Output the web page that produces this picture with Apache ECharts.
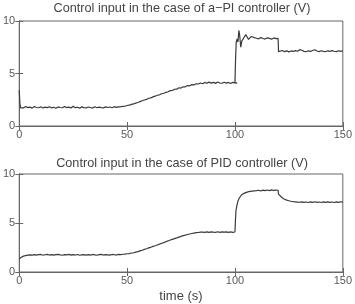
<!DOCTYPE html>
<html>
<head>
<meta charset="utf-8">
<script src="https://cdn.jsdelivr.net/npm/echarts@6/dist/echarts.min.js"></script>
<style>html,body{margin:0;padding:0;background:#fff}#c{width:355px;height:304px}</style>
</head>
<body>
<div id="c"></div>
<script>
// ---- Data (time in s, control input in V) ----
const xTicks = [0, 50, 100, 150];
const yTicks = [0, 5, 10];
const titles = ['Control input in the case of a\u2212PI controller (V)', 'Control input in the case of PID controller (V)'];
const xName = 'time (s)';

// a-PI controller
const apiStart = [[0, 3.4], [0.3, 2.2], [0.6, 1.72]];
const apiLowStartT = 1; // values below at 1 s steps
const apiLow = [1.80,1.72,1.85,1.75,1.80,1.70,1.86,1.76,1.74,1.83,
  1.71,1.80,1.75,1.84,1.72,1.79,1.69,1.82,1.76,1.74,
  1.85,1.75,1.80,1.71,1.88,1.74,1.79,1.70,1.82,1.75,
  1.72,1.81,1.76,1.71,1.83,1.74,1.79,1.75,1.72,1.82,
  1.76,1.81,1.74,1.84,1.77,1.82,1.83,
  1.87,1.88,1.95,1.98,2.06,2.10,2.18,2.24,2.32,2.40,
  2.48,2.53,2.64,2.68,2.77,2.84,2.93,2.97,3.07,3.12,
  3.21,3.26,3.37,3.38,3.50,3.51,3.64,3.61,3.74,3.73,
  3.85,3.83,3.94,3.91,4.02,4.00,4.10,4.02,4.15,4.07,
  4.18,4.08,4.16,4.06,4.19,4.09,4.07,4.17,4.08,4.15,
  4.05,4.16,4.10,4.08];
const apiJump = [[100, 4.13],[100.3, 6.5],[100.6, 8.0],[101, 8.3],[101.4, 8.0],[101.8, 9.1],
  [102.2, 8.6],[102.7, 7.5],[103.2, 8.1],[103.8, 8.3],[104.4, 8.5],[105, 8.7],[105.6, 8.5],
  [106.3, 8.25],[107, 8.42],[107.5, 8.52],[108, 8.35],[109, 8.42]];
const apiHighStartT = 110;
const apiHigh = [8.36,8.30,8.42,8.33,8.28,8.40,8.35,8.27,8.39,8.32,8.34];
const apiDrop = [[120.2, 7.08]];
const apiEndStartT = 121;
const apiEnd = [7.12,7.19,7.08,7.16,7.06,7.15,7.10,7.18,7.12,7.27,
  7.21,7.11,7.07,7.16,7.10,7.19,7.26,7.14,7.08,7.17,
  7.11,7.07,7.16,7.10,7.18,7.12,7.08,7.17,7.11,7.15];

// PID controller
const pidLowStartT = 0;
const pidLow = [1.35,1.50,1.62,1.68,1.72,1.75,1.72,1.78,1.73,1.77,
  1.79,1.71,1.76,1.80,1.73,1.78,1.72,1.77,1.79,1.74,
  1.71,1.78,1.75,1.80,1.72,1.77,1.73,1.79,1.71,1.75,
  1.78,1.73,1.77,1.72,1.79,1.75,1.71,1.77,1.80,1.73,
  1.78,1.75,1.72,1.79,1.76,1.73,1.80,1.77,1.81,1.82,
  1.86,1.88,1.94,1.96,2.03,2.08,2.16,2.22,2.31,2.37,
  2.46,2.52,2.61,2.68,2.76,2.84,2.93,3.00,3.09,3.17,
  3.26,3.33,3.41,3.48,3.56,3.63,3.71,3.76,3.83,3.88,
  3.93,3.97,4.01,4.03,4.06,4.07,4.05,4.09,4.04,4.10,
  4.07,4.05,4.11,4.04,4.09,4.06,4.10,4.05,4.09,4.05];
const pidJump = [[100, 4.08],[100.2, 5.2],[100.5, 6.3],[101, 6.9],[101.5, 7.3],[102, 7.55],
  [103, 7.85],[104, 8.0],[105, 8.1],[106, 8.18],[107, 8.22],[108, 8.25],[109, 8.28]];
const pidHighStartT = 110;
const pidHigh = [8.30,8.34,8.27,8.36,8.30,8.37,8.31,8.38,8.32,8.36,8.34];
const pidDrop = [[120.2, 7.95]];
const pidEndStartT = 121;
const pidEnd = [7.75,7.55,7.42,7.33,7.27,7.22,7.18,7.16,7.14,7.12,
  7.16,7.10,7.14,7.09,7.15,7.11,7.17,7.10,7.14,7.09,
  7.15,7.11,7.16,7.10,7.14,7.09,7.15,7.11,7.17,7.13];

function seg(start, vals) { return vals.map((v, i) => [start + i, v]); }

const apiData = [].concat(apiStart, seg(apiLowStartT, apiLow), apiJump, seg(apiHighStartT, apiHigh), apiDrop, seg(apiEndStartT, apiEnd));
const pidData = [].concat(seg(pidLowStartT, pidLow), pidJump, seg(pidHighStartT, pidHigh), pidDrop, seg(pidEndStartT, pidEnd));

const FONT = 'Liberation Sans';
const axisCol = '#666';
const labelCol = '#5a5a5a';

const grids = [
  { left: 16, right: 8, top: 21, height: 105, show: true, borderColor: axisCol, borderWidth: 1 },
  { left: 16, right: 8, top: 174, height: 103, show: true, borderColor: axisCol, borderWidth: 1 }
];

function xAx(gi, pos, labels) {
  return {
    type: 'value', gridIndex: gi, position: pos, min: xTicks[0], max: xTicks[xTicks.length - 1],
    interval: xTicks[1] - xTicks[0],
    axisLine: { show: true, lineStyle: { color: axisCol } },
    axisTick: { show: true, inside: true, length: 4, lineStyle: { color: axisCol } },
    axisLabel: { show: labels, color: labelCol, fontFamily: FONT, fontSize: 11, margin: 3 },
    splitLine: { show: false },
    name: (labels && gi === 1) ? xName : '', nameLocation: 'middle', nameGap: 18,
    nameTextStyle: { color: '#444', fontFamily: FONT, fontSize: 13 }
  };
}
function yAx(gi, pos, labels) {
  return {
    type: 'value', gridIndex: gi, position: pos, min: yTicks[0], max: yTicks[yTicks.length - 1],
    interval: yTicks[1] - yTicks[0],
    axisLine: { show: true, lineStyle: { color: axisCol } },
    axisTick: { show: true, inside: true, length: 4, lineStyle: { color: axisCol } },
    axisLabel: { show: labels, color: labelCol, fontFamily: FONT, fontSize: 11, margin: 4 },
    splitLine: { show: false }
  };
}

const titleStyle = { color: '#444', fontFamily: FONT, fontSize: 12.7, fontWeight: 'normal' };
const chart = echarts.init(document.getElementById('c'), null, { renderer: 'canvas' });
chart.setOption({
  animation: false,
  backgroundColor: '#fff',
  title: [
    { text: titles[0], left: 182, top: 2, padding: 0, textAlign: 'center', textStyle: titleStyle },
    { text: titles[1], left: 182, top: 157, padding: 0, textAlign: 'center', textStyle: titleStyle }
  ],
  grid: grids,
  xAxis: [xAx(0, 'bottom', true), xAx(0, 'top', false), xAx(1, 'bottom', true), xAx(1, 'top', false)],
  yAxis: [yAx(0, 'left', true), yAx(0, 'right', false), yAx(1, 'left', true), yAx(1, 'right', false)],
  series: [
    { type: 'line', xAxisIndex: 0, yAxisIndex: 0, data: apiData, showSymbol: false, lineStyle: { color: '#3a3a3a', width: 1.2 } },
    { type: 'line', xAxisIndex: 2, yAxisIndex: 2, data: pidData, showSymbol: false, lineStyle: { color: '#3a3a3a', width: 1.2 } }
  ]
});
</script>
</body>
</html>
